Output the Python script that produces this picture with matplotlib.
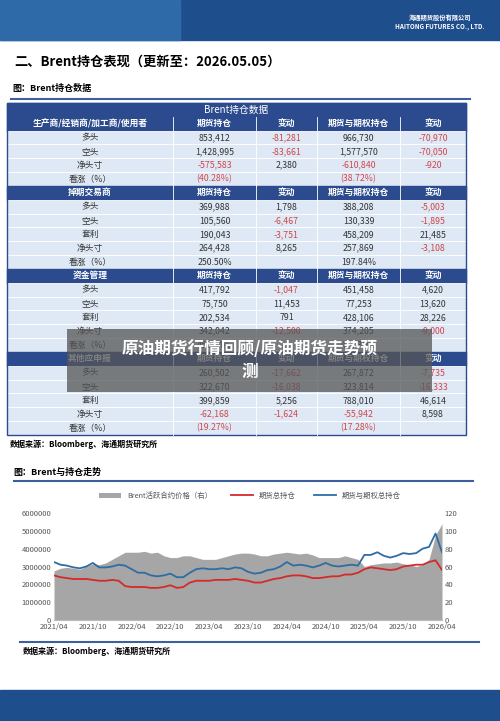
import matplotlib
matplotlib.use("Agg")
import matplotlib.pyplot as plt
from matplotlib.patches import Rectangle
import numpy as np

plt.rcParams['font.family'] = ['Noto Sans CJK SC', 'DejaVu Sans']

sections = [
    ("生产商/经销商/加工商/使用者", [
        ("多头", "853,412", "-81,281", "966,730", "-70,970"),
        ("空头", "1,428,995", "-83,661", "1,577,570", "-70,050"),
        ("净头寸", "-575,583", "2,380", "-610,840", "-920"),
        ("看涨（%）", "(40.28%)", "", "(38.72%)", ""),
    ]),
    ("掉期交易商", [
        ("多头", "369,988", "1,798", "388,208", "-5,003"),
        ("空头", "105,560", "-6,467", "130,339", "-1,895"),
        ("套利", "190,043", "-3,751", "458,209", "21,485"),
        ("净头寸", "264,428", "8,265", "257,869", "-3,108"),
        ("看涨（%）", "250.50%", "", "197.84%", ""),
    ]),
    ("资金管理", [
        ("多头", "417,792", "-1,047", "451,458", "4,620"),
        ("空头", "75,750", "11,453", "77,253", "13,620"),
        ("套利", "202,534", "791", "428,106", "28,226"),
        ("净头寸", "342,042", "-12,500", "374,205", "-9,000"),
        ("看涨（%）", "451.54%", "", "484.39%", ""),
    ]),
    ("其他应申报", [
        ("多头", "260,502", "-17,662", "267,872", "-7,735"),
        ("空头", "322,670", "-16,038", "323,814", "-16,333"),
        ("套利", "399,859", "5,256", "788,010", "46,614"),
        ("净头寸", "-62,168", "-1,624", "-55,942", "8,598"),
        ("看涨（%）", "(19.27%)", "", "(17.28%)", ""),
    ]),
]
col_headers = ["期货持仓", "变动", "期货与期权持仓", "变动"]

months = ["2021/04", "2021/05", "2021/06", "2021/07", "2021/08", "2021/09", "2021/10", "2021/11", "2021/12",
          "2022/01", "2022/02", "2022/03", "2022/04", "2022/05", "2022/06", "2022/07", "2022/08", "2022/09",
          "2022/10", "2022/11", "2022/12", "2023/01", "2023/02", "2023/03", "2023/04", "2023/05", "2023/06",
          "2023/07", "2023/08", "2023/09", "2023/10", "2023/11", "2023/12", "2024/01", "2024/02", "2024/03",
          "2024/04", "2024/05", "2024/06", "2024/07", "2024/08", "2024/09", "2024/10", "2024/11", "2024/12",
          "2025/01", "2025/02", "2025/03", "2025/04", "2025/05", "2025/06", "2025/07", "2025/08", "2025/09",
          "2025/10", "2025/11", "2025/12", "2026/01", "2026/02", "2026/03", "2026/04"]
price = [55, 58, 59, 58, 57, 60, 63, 62, 64, 68, 72, 76, 76, 76, 77, 75, 76, 72, 70, 70, 72, 72, 70, 68, 68,
         68, 70, 72, 74, 75, 75, 74, 72, 72, 74, 75, 76, 75, 74, 75, 73, 70, 70, 70, 70, 72, 70, 68, 60, 62,
         63, 64, 64, 65, 63, 62, 60, 62, 68, 95, 108]
fut = [2.5, 2.4, 2.35, 2.3, 2.3, 2.3, 2.25, 2.2, 2.2, 2.25, 2.2, 1.9, 1.85, 1.85, 1.85, 1.8, 1.8, 1.85, 1.95,
       1.8, 1.85, 2.1, 2.2, 2.2, 2.2, 2.25, 2.25, 2.25, 2.3, 2.25, 2.2, 2.1, 2.1, 2.2, 2.3, 2.35, 2.45, 2.5,
       2.5, 2.45, 2.35, 2.35, 2.4, 2.45, 2.45, 2.55, 2.55, 2.65, 2.85, 2.95, 2.9, 2.85, 2.8, 2.85, 3.0, 3.05,
       3.1, 3.1, 3.25, 3.35, 2.8]
futopt = [3.25, 3.1, 3.05, 2.95, 2.9, 3.0, 3.2, 2.95, 2.95, 3.0, 3.1, 3.05, 2.85, 2.65, 2.65, 2.5, 2.45, 2.5,
          2.6, 2.4, 2.4, 2.65, 2.85, 2.9, 2.85, 2.85, 2.9, 2.85, 2.95, 2.9, 2.7, 2.6, 2.65, 2.8, 2.85, 3.0,
          3.25, 3.05, 3.1, 3.05, 2.95, 3.05, 3.2, 3.05, 3.0, 3.05, 3.1, 3.05, 3.65, 3.65, 3.8, 3.6, 3.5, 3.6,
          3.75, 3.7, 3.75, 4.0, 4.1, 4.85, 3.8]

W, H = 500, 721
fig = plt.figure(figsize=(5, 7.21), dpi=100)
bg = fig.add_axes([0, 0, 1, 1])
bg.set_xlim(0, W); bg.set_ylim(H, 0); bg.axis('off')

navy = '#1f4e8c'
bg.add_patch(Rectangle((0, 0), W, 40, color=navy))
bg.add_patch(Rectangle((0, 0), 180, 40, color='#2f6aa8'))
bg.text(440, 22, "海通期货股份有限公司\nHAITONG FUTURES CO., LTD.", color='white', fontsize=4.5,
        ha='center', va='center', fontweight='bold')
bg.add_patch(Rectangle((0, 690), W, 31, color=navy))

bg.text(14, 62, "二、Brent持仓表现（更新至：2026.05.05）", fontsize=9.5, fontweight='bold', va='center')
bg.text(12, 88, "图：Brent持仓数据", fontsize=6.5, fontweight='bold', va='center')
bg.plot([11, 470], [99, 99], color='#3d5f9e', lw=1.5)

# table
cx = [7, 173, 256, 317, 400, 466]
rh = 13.83
y = 103
hdr = '#2c4b8e'; light = '#dfe9f5'; red = '#d0464b'
bg.add_patch(Rectangle((cx[0], y), cx[-1] - cx[0], rh, color=hdr))
bg.text((cx[0] + cx[-1]) / 2, y + rh / 2, "Brent持仓数据", color='white', fontsize=7, ha='center', va='center')
y += rh
for name, rows in sections:
    bg.add_patch(Rectangle((cx[0], y), cx[-1] - cx[0], rh, color=hdr))
    labels = [name] + col_headers
    for i, lab in enumerate(labels):
        bg.text((cx[i] + cx[i + 1]) / 2, y + rh / 2, lab, color='white', fontsize=6.3, ha='center', va='center',
                fontweight='bold')
        if i > 0:
            bg.plot([cx[i], cx[i]], [y, y + rh], color='white', lw=0.6)
    y += rh
    for r in rows:
        bg.add_patch(Rectangle((cx[0], y), cx[-1] - cx[0], rh, facecolor=light, edgecolor='white', lw=0.6))
        for i, v in enumerate(r):
            col = red if (v.startswith('-') or v.startswith('(')) else '#333333'
            st = 'italic' if '%' in v and i > 0 else 'normal'
            bg.text((cx[i] + cx[i + 1]) / 2, y + rh / 2, v, color=col, fontsize=6.3, ha='center', va='center',
                    style=st)
            if i > 0:
                bg.plot([cx[i], cx[i]], [y, y + rh], color='white', lw=0.6)
        y += rh
bg.add_patch(Rectangle((cx[0], 103), cx[-1] - cx[0], y - 103, fill=False, edgecolor='#2c4b8e', lw=1))

bg.text(10, 444, "数据来源：Bloomberg、海通期货研究所", fontsize=5.8, fontweight='bold', va='center')
bg.text(13, 472, "图：Brent与持仓走势", fontsize=6.5, fontweight='bold', va='center')
bg.plot([14, 473], [481, 481], color='#3d5f9e', lw=1.5)
bg.plot([20, 479], [642, 642], color='#3d5f9e', lw=1.5)
bg.text(23, 651, "数据来源：Bloomberg、海通期货研究所", fontsize=5.8, fontweight='bold', va='center')

# chart
x = np.arange(len(months))
ax = fig.add_axes([54 / W, 1 - 620 / H, (442 - 54) / W, (620 - 513) / H])
ax2 = ax.twinx()
ax2.fill_between(x, price, color='#a6a6a6', lw=0, label='Brent活跃合约价格（右）')
ax2.set_ylim(0, 120); ax2.set_yticks(range(0, 121, 20))
ax.set_zorder(ax2.get_zorder() + 1); ax.patch.set_visible(False)
ax.plot(x, np.array(fut) * 1e6, color='#d42a2a', lw=1.3, label='期货总持仓')
ax.plot(x, np.array(futopt) * 1e6, color='#2e6da4', lw=1.3, label='期货与期权总持仓')
ax.set_ylim(0, 6e6); ax.set_yticks(np.arange(0, 6e6 + 1, 1e6))
ax.set_yticklabels([f"{int(v)}" for v in np.arange(0, 6e6 + 1, 1e6)])
ax.set_xlim(0, len(months) - 1)
ax.set_xticks(x[::6]); ax.set_xticklabels(months[::6])
for a in (ax, ax2):
    for s in a.spines.values():
        s.set_visible(False)
    a.tick_params(length=0, labelsize=5.5, colors='#555555', pad=2)
ax.spines['bottom'].set_visible(True); ax.spines['bottom'].set_color('#bbbbbb')
h1, l1 = ax2.get_legend_handles_labels()
h2, l2 = ax.get_legend_handles_labels()
fig.legend(h1 + h2, l1 + l2, loc='center', bbox_to_anchor=(0.5, 1 - 496 / H), ncol=3, frameon=False,
           fontsize=5.3, handlelength=3, columnspacing=2.5, labelcolor='#555555')

# overlay banner
ov = fig.add_axes([0, 0, 1, 1]); ov.set_xlim(0, W); ov.set_ylim(H, 0); ov.axis('off')
ov.add_patch(Rectangle((67, 329), 365, 63, color='#555555', alpha=0.75, lw=0))
ov.text(250, 349, "原油期货行情回顾/原油期货走势预", color='white', fontsize=12, fontweight='bold',
        ha='center', va='center')
ov.text(250, 372, "测", color='white', fontsize=12, fontweight='bold', ha='center', va='center')

fig.savefig("out.png", dpi=100, facecolor='white')
